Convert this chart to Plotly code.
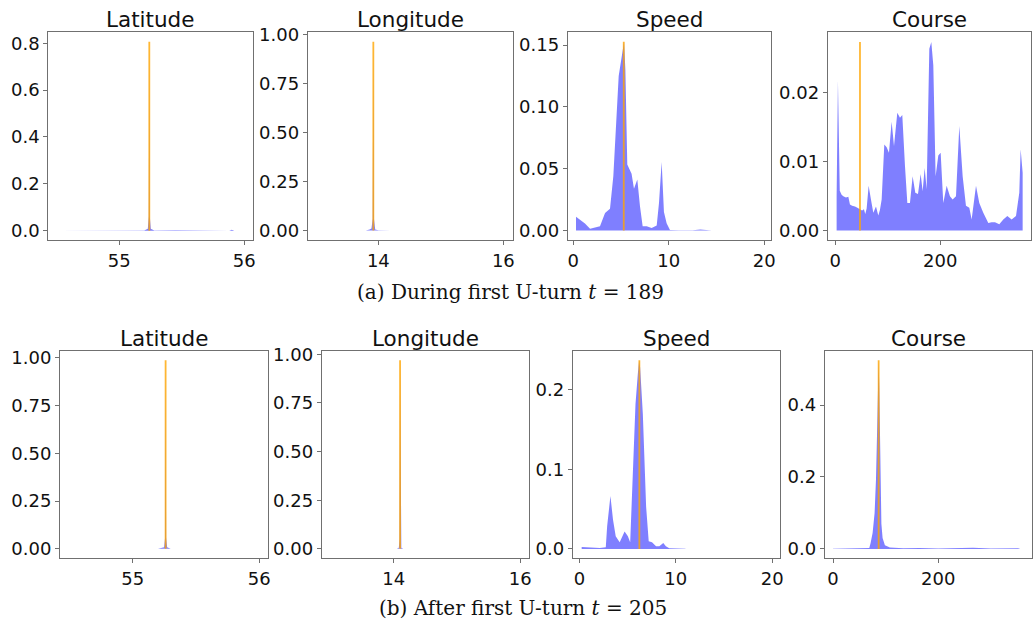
import plotly.graph_objects as go

W, H = 1036, 623

# ---------------- data ----------------
panel_titles = ["Latitude", "Longitude", "Speed", "Course"]
caption_a = "(a) During first U-turn <i>t</i> = 189"
caption_b = "(b) After first U-turn <i>t</i> = 205"

# (a) t = 189
lat_a_x = [54.50, 55.00, 55.20, 55.228, 55.236, 55.24, 55.244, 55.252, 55.28, 55.45, 55.60, 55.88, 55.90, 55.92, 55.98]
lat_a_y = [0.0, 0.0005, 0.001, 0.008, 0.06, 0.806, 0.06, 0.008, 0.001, 0.0015, 0.0005, 0.0, 0.004, 0.0, 0.0]
lat_a_obs = 55.24

lon_a_x = [12.95, 13.40, 13.55, 13.60, 13.80, 13.86, 13.89, 13.91, 13.92, 13.93, 13.95, 14.00, 14.20, 15.00, 16.07]
lon_a_y = [0.0, 0.0, 0.002, 0.0, 0.0, 0.006, 0.01, 0.06, 0.965, 0.06, 0.005, 0.001, 0.0, 0.0, 0.0]
lon_a_obs = 13.92

spd_a_x = [0.28, 0.70, 1.22, 1.75, 2.27, 2.79, 3.32, 3.84, 4.19, 4.54, 4.75, 5.31, 5.45, 5.65, 6.10, 6.35,
           6.70, 6.98, 7.26, 7.68, 8.20, 8.73, 8.97, 9.25, 9.49, 9.77, 10.12, 11.0, 12.5, 13.3, 14.5]
spd_a_y = [0.0111, 0.0084, 0.0057, 0.0014, 0.0027, 0.0035, 0.0143, 0.0176, 0.0441, 0.0981, 0.1250, 0.1527,
           0.1300, 0.0535, 0.0460, 0.0338, 0.0414, 0.0197, 0.0035, 0.0035, 0.0022, 0.0041, 0.0224, 0.0554,
           0.0150, 0.0060, 0.0005, 0.0003, 0.0002, 0.0008, 0.0001]
spd_a_obs = 5.28

crs_a_x = [2.5, 5.0, 8.5, 12.0, 15.2, 20.3, 24.8, 27.9, 32.0, 37.5, 42.0, 47.0, 51.0, 54.6, 57.0, 59.7,
           63.5, 67.9, 72.4, 77.5, 81.9, 85.0, 88.3, 93.3, 97.8, 102.2, 107.3, 111.8, 118.1, 123.2, 127.6,
           132.7, 137.2, 142.2, 147.3, 152.4, 157.5, 162.6, 166.4, 170.2, 174.0, 179.1, 182.9, 186.7, 191.1,
           196.2, 200.7, 205.7, 212.1, 218.4, 223.5, 229.9, 236.2, 242.6, 248.9, 255.3, 259.7, 268.0, 274.3,
           281.9, 291.5, 297.8, 304.2, 312.4, 320.0, 327.7, 335.9, 344.2, 350.5, 353.1, 356.9]
crs_a_y = [0.0050, 0.0218, 0.0058, 0.0052, 0.0050, 0.0048, 0.0049, 0.0038, 0.0036, 0.0035, 0.0033, 0.0031,
           0.0029, 0.0031, 0.0024, 0.0032, 0.0065, 0.0045, 0.0026, 0.0035, 0.0022, 0.0030, 0.0045, 0.0125,
           0.0121, 0.0113, 0.0158, 0.0123, 0.0171, 0.0164, 0.0168, 0.0094, 0.0040, 0.0040, 0.0079, 0.0055,
           0.0053, 0.0082, 0.0057, 0.0091, 0.0060, 0.0264, 0.0274, 0.0240, 0.0079, 0.0109, 0.0113, 0.0040,
           0.0065, 0.0050, 0.0045, 0.0050, 0.0152, 0.0079, 0.0036, 0.0033, 0.0016, 0.0065, 0.0040, 0.0026,
           0.0011, 0.0012, 0.0012, 0.0009, 0.0016, 0.0021, 0.0016, 0.0021, 0.0055, 0.0118, 0.0084]
crs_a_obs = 47.0

# (b) t = 205
lat_b_x = [54.50, 55.00, 55.20, 55.248, 55.256, 55.26, 55.264, 55.272, 55.30, 55.50, 55.98]
lat_b_y = [0.0, 0.0, 0.001, 0.008, 0.06, 0.988, 0.06, 0.008, 0.001, 0.0, 0.0]
lat_b_obs = 55.26

lon_b_x = [12.95, 13.80, 14.05, 14.08, 14.092, 14.10, 14.108, 14.12, 14.15, 14.40, 16.07]
lon_b_y = [0.0, 0.0, 0.001, 0.006, 0.05, 0.970, 0.05, 0.006, 0.001, 0.001, 0.0]
lon_b_obs = 14.10

spd_b_x = [0.24, 0.75, 1.44, 2.12, 2.74, 2.88, 3.22, 3.49, 3.77, 4.18, 4.69, 5.03, 5.27, 5.55, 5.82, 6.06,
           6.20, 6.30, 6.58, 6.92, 7.19, 7.53, 7.95, 8.29, 8.70, 8.97, 9.32, 11.0]
spd_b_y = [0.0025, 0.0021, 0.0008, 0.0012, 0.0021, 0.0283, 0.0665, 0.0366, 0.0158, 0.0083, 0.0220, 0.0158,
           0.0083, 0.1031, 0.1821, 0.2195, 0.2370, 0.2279, 0.1696, 0.0532, 0.0096, 0.0083, 0.0033, 0.0033,
           0.0075, 0.0033, 0.0008, 0.0003]
spd_b_obs = 6.22

crs_b_x = [0.0, 50.0, 60.0, 69.0, 71.5, 75.3, 79.1, 81.7, 83.6, 85.5, 86.8, 88.0, 89.3, 90.5, 92.0, 94.3,
           98.7, 108.2, 133.6, 165.0, 200.0, 266.5, 300.0, 352.0, 356.0]
crs_b_y = [0.0005, 0.0008, 0.001, 0.0028, 0.0166, 0.0443, 0.0998, 0.192, 0.312, 0.451, 0.525, 0.45, 0.30,
           0.15, 0.07, 0.03, 0.01, 0.0037, 0.002, 0.0025, 0.001, 0.003, 0.0008, 0.0015, 0.0]
crs_b_obs = 86.8

# tick labels
lat_xticks = [55, 56]
lon_xticks = [14, 16]
spd_xticks = [0, 10, 20]
crs_xticks = [0, 200]
lat_a_yticks = ["0.0", "0.2", "0.4", "0.6", "0.8"]
lon_a_yticks = ["0.00", "0.25", "0.50", "0.75", "1.00"]
spd_a_yticks = ["0.00", "0.05", "0.10", "0.15"]
crs_a_yticks = ["0.00", "0.01", "0.02"]
lat_b_yticks = ["0.00", "0.25", "0.50", "0.75", "1.00"]
lon_b_yticks = ["0.00", "0.25", "0.50", "0.75", "1.00"]
spd_b_yticks = ["0.0", "0.1", "0.2"]
crs_b_yticks = ["0.0", "0.2", "0.4"]

# ---------------- layout (pixel boxes) ----------------
panels = [
    (lat_a_x, lat_a_y, lat_a_obs, lat_xticks, lat_a_yticks, (48.3, 253.3), (32.3, 240), (54.432, 56.072), (-0.0400, 0.8467)),
    (lon_a_x, lon_a_y, lon_a_obs, lon_xticks, lon_a_yticks, (307.7, 512.7), (32.3, 240), (12.870, 16.150), (-0.0482, 1.0130)),
    (spd_a_x, spd_a_y, spd_a_obs, spd_xticks, spd_a_yticks, (567.7, 771.0), (32.3, 240), (-0.59, 20.70), (-0.0076, 0.1603)),
    (crs_a_x, crs_a_y, crs_a_obs, crs_xticks, crs_a_yticks, (827.7, 1031.0), (32.3, 240), (-14.5, 372.8), (-0.00137, 0.0288)),
    (lat_b_x, lat_b_y, lat_b_obs, lat_xticks, lat_b_yticks, (60.0, 268.3), (350.7, 558.3), (54.426, 56.071), (-0.0494, 1.0374)),
    (lon_b_x, lon_b_y, lon_b_obs, lon_xticks, lon_b_yticks, (321.7, 529.0), (350.7, 558.3), (12.86, 16.14), (-0.0485, 1.0185)),
    (spd_b_x, spd_b_y, spd_b_obs, spd_xticks, spd_b_yticks, (572.7, 780.0), (350.7, 558.3), (-0.69, 20.8), (-0.0118, 0.2489)),
    (crs_b_x, crs_b_y, crs_b_obs, crs_xticks, crs_b_yticks, (824.7, 1032.3), (350.7, 558.3), (-15.8, 379.0), (-0.0262, 0.5513)),
]

fig = go.Figure()
annotations = []
axis_col = "#707070"
tick_font = dict(family="DejaVu Sans", size=18, color="#111111")

for i, (xs, ys, obs, xt, yt, xb, yb, xr, yr) in enumerate(panels, start=1):
    xa = "x" if i == 1 else f"x{i}"
    ya = "y" if i == 1 else f"y{i}"
    fig.add_trace(go.Scatter(x=xs, y=ys, mode="lines", fill="tozeroy",
                             fillcolor="rgba(0,0,255,0.5)", line=dict(width=0, color="rgba(0,0,255,0)"),
                             xaxis=xa, yaxis=ya, showlegend=False, hoverinfo="skip"))
    fig.add_trace(go.Scatter(x=[obs, obs], y=[0, max(ys)], mode="lines",
                             line=dict(color="rgba(255,165,0,0.8)", width=1.8),
                             xaxis=xa, yaxis=ya, showlegend=False, hoverinfo="skip"))
    yvals = [float(t) for t in yt]
    xdom = [xb[0] / W, xb[1] / W]
    ydom = [1 - yb[1] / H, 1 - yb[0] / H]
    common = dict(showline=True, linecolor=axis_col, linewidth=1, mirror=True, showgrid=False,
                  zeroline=False, ticks="outside", ticklen=4, tickcolor=axis_col, tickwidth=1,
                  tickfont=tick_font, automargin=False)
    fig.update_layout(**{
        ("xaxis" if i == 1 else f"xaxis{i}"): dict(domain=xdom, anchor=ya, range=list(xr),
                                                   tickvals=xt, ticktext=[str(v) for v in xt], **common),
        ("yaxis" if i == 1 else f"yaxis{i}"): dict(domain=ydom, anchor=xa, range=list(yr),
                                                   tickvals=yvals, ticktext=yt, **common),
    })
    annotations.append(dict(text=panel_titles[(i - 1) % 4], x=(xdom[0] + xdom[1]) / 2, y=ydom[1],
                            xref="paper", yref="paper", xanchor="center", yanchor="bottom",
                            yshift=-2, showarrow=False,
                            font=dict(family="DejaVu Sans", size=21.5, color="#111111")))

annotations.append(dict(text=caption_a, x=510 / W, y=1 - 292 / H, xref="paper", yref="paper",
                        xanchor="center", yanchor="middle", showarrow=False,
                        font=dict(family="DejaVu Serif", size=20, color="#111111")))
annotations.append(dict(text=caption_b, x=523 / W, y=1 - 608 / H, xref="paper", yref="paper",
                        xanchor="center", yanchor="middle", showarrow=False,
                        font=dict(family="DejaVu Serif", size=20, color="#111111")))

fig.update_layout(width=W, height=H, margin=dict(l=0, r=0, t=0, b=0, autoexpand=False),
                  paper_bgcolor="white", plot_bgcolor="white", annotations=annotations)

fig.write_html("out.html")
